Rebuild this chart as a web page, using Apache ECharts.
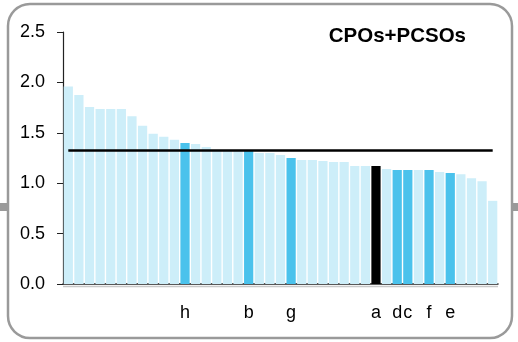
<!DOCTYPE html>
<html>
<head>
<meta charset="utf-8">
<script src="https://cdn.jsdelivr.net/npm/echarts@6/dist/echarts.min.js"></script>
<style>
html,body{margin:0;padding:0;background:#fff;}
#c{width:518px;height:342px;}
</style>
</head>
<body>
<div id="c"></div>
<script>
// Category labels (only marked bars carry a letter)
const labels = ['', '', '', '', '', '', '', '', '', '', '', 'h', '', '', '', '', '', 'b', '', '', '', 'g', '', '', '', '', '', '', '', 'a', '', 'd', 'c', '', 'f', '', 'e', '', '', '', ''];
// Bar values
const values = [1.96, 1.875, 1.755, 1.735, 1.735, 1.735, 1.665, 1.57, 1.49, 1.46, 1.43, 1.40, 1.39, 1.36, 1.33, 1.32, 1.32, 1.32, 1.30, 1.30, 1.28, 1.25, 1.23, 1.23, 1.22, 1.21, 1.21, 1.17, 1.17, 1.17, 1.14, 1.13, 1.13, 1.13, 1.13, 1.11, 1.10, 1.09, 1.05, 1.02, 0.825];
const referenceValue = 1.33;
const yTicks = ['0.0', '0.5', '1.0', '1.5', '2.0', '2.5'];
const titleText = 'CPOs+PCSOs';

const LIGHT = '#cdeef9', DARK = '#4ac2ec', BLACK = '#000000';
const barData = values.map((v, i) => ({
  value: v,
  itemStyle: { color: labels[i] === 'a' ? BLACK : (labels[i] ? DARK : LIGHT) }
}));

const chart = echarts.init(document.getElementById('c'), null, { renderer: 'canvas' });
chart.setOption({
  animation: false,
  backgroundColor: '#fff',
  textStyle: { fontFamily: 'Liberation Sans, Arial, sans-serif' },
  title: {
    text: titleText,
    right: 47, top: 21,
    textStyle: { fontSize: 20.5, fontWeight: 'bold', color: '#000', fontFamily: 'Liberation Sans, Arial, sans-serif' }
  },
  grid: { left: 63, right: 20, top: 32, bottom: 58, containLabel: false },
  xAxis: {
    type: 'category',
    data: labels,
    axisLine: { show: true, lineStyle: { color: '#222', width: 1.5 } },
    axisTick: { show: false },
    axisLabel: { interval: 0, margin: 20, fontSize: 18, color: '#000', fontFamily: 'Liberation Sans, Arial, sans-serif' },
    splitLine: { show: false }
  },
  yAxis: {
    type: 'value',
    min: 0, max: 2.5, interval: 0.5,
    axisLine: { show: true, lineStyle: { color: '#222', width: 1.2 } },
    axisTick: { show: true, inside: false, length: 6, lineStyle: { color: '#222' } },
    axisLabel: {
      margin: 18, fontSize: 18, color: '#000', fontFamily: 'Liberation Sans, Arial, sans-serif',
      formatter: (v) => yTicks[Math.round(v / 0.5)] ?? v.toFixed(1)
    },
    splitLine: { show: false }
  },
  series: [{
    type: 'bar',
    data: barData,
    barCategoryGap: '13%',
    z: 2,
    markLine: {
      silent: true,
      symbol: 'none',
      label: { show: false },
      lineStyle: { color: '#000', width: 2.5, type: 'solid' },
      data: [[{ coord: [0, referenceValue] }, { coord: [values.length - 1, referenceValue] }]]
    }
  }],
  graphic: [
    { type: 'rect', shape: { x: 8, y: 4, width: 504, height: 334, r: 22 },
      style: { fill: 'none', stroke: '#9a9a9a', lineWidth: 2.5 }, z: 10, silent: true },
    { type: 'rect', shape: { x: 0, y: 203, width: 8, height: 8 }, style: { fill: '#9a9a9a' }, z: 10 },
    { type: 'rect', shape: { x: 512, y: 203, width: 6, height: 8 }, style: { fill: '#9a9a9a' }, z: 10 },
    { type: 'line', shape: { x1: 63, y1: 286.5, x2: 498, y2: 286.5 }, style: { stroke: '#c8c8c8', lineWidth: 1.5 }, z: 1 }
  ]
});
</script>
</body>
</html>
